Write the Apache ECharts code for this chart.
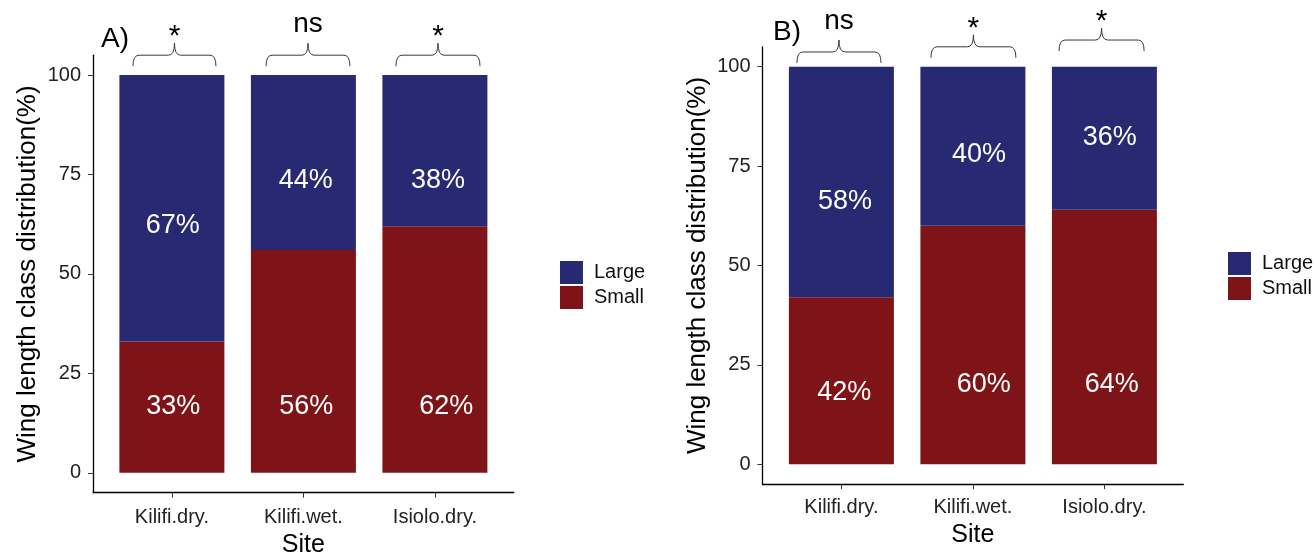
<!DOCTYPE html>
<html>
<head>
<meta charset="utf-8">
<script src="https://cdn.jsdelivr.net/npm/echarts@6/dist/echarts.min.js"></script>
<style>
html,body{margin:0;padding:0;background:#fff;}
#chart{width:1314px;height:552px;}
</style>
</head>
<body>
<div id="chart"></div>
<script>
// ---------- data ----------
const categories = ['Kilifi.dry.', 'Kilifi.wet.', 'Isiolo.dry.'];
const smallA = [33, 56, 62];
const largeA = [67, 44, 38];
const smallB = [42, 60, 64];
const largeB = [58, 40, 36];
const sigA = ['*', 'ns', '*'];
const sigB = ['ns', '*', '*'];
const yTicks = [0, 25, 50, 75, 100];
const seriesNames = ['Large', 'Small'];
const yTitle = 'Wing length class distribution(%)';
const xTitle = 'Site';
const panelTitles = ['A)', 'B)'];

// label anchor positions (data units), as placed in the original figure
const lblSmallAx = [1.010, 2.021, 3.087], lblSmallAy = [16.7, 16.7, 16.7];
const lblLargeAx = [1.007, 2.018, 3.024], lblLargeAy = [62.2, 73.6, 73.6];
const lblSmallBx = [1.022, 2.082, 3.056], lblSmallBy = [18.1, 20.1, 20.1];
const lblLargeBx = [1.027, 2.046, 3.040], lblLargeBy = [66.0, 78.0, 82.2];

// significance brace extents (data units)
const braceAfrom = [0.704, 1.716, 2.704], braceAto = [1.335, 2.354, 3.343], braceAy = [105, 105, 105];
const braceBfrom = [0.662, 1.681, 2.655], braceBto = [1.301, 2.327, 3.302], braceBy = [103.7, 105, 106.7];

// ---------- style ----------
const FONT = "'Liberation Sans', Arial, sans-serif";
const NAVY = '#272972';
const RED = '#7f1418';

const chart = echarts.init(document.getElementById('chart'), null, {renderer: 'canvas'});

// value first so that the stack is applied on the value dimension
function barData(vals) { return vals.map((v, i) => [v, i + 1]); }
function lblData(xs, ys, vals) { return vals.map((v, i) => [xs[i], ys[i], v]); }
function braceData(from, to, ys) { return from.map((f, i) => [f, to[i], ys[i]]); }

function braceRenderer(sig) {
  return function (params, api) {
    const i = params.dataIndex;
    const p1 = api.coord([api.value(0), api.value(2)]);
    const p2 = api.coord([api.value(1), api.value(2)]);
    const L = p1[0], R = p2[0], T = p1[1], M = (L + R) / 2;
    const r = 6, drop = 11, rise = 12;
    const d = `M${L},${T + drop} Q${L},${T} ${L + r},${T} L${M - r},${T} Q${M},${T} ${M},${T - rise} ` +
              `Q${M},${T} ${M + r},${T} L${R - r},${T} Q${R},${T} ${R},${T + drop}`;
    const s = sig[i];
    const ty = s === 'ns' ? T - rise - 19 : T - rise - 6;
    return {
      type: 'group',
      children: [
        {type: 'path', shape: {pathData: d}, style: {fill: null, stroke: '#3a3a3a', lineWidth: 1}},
        {type: 'text', style: {text: s, x: M, y: ty, align: 'center', verticalAlign: 'middle',
          font: `${s === 'ns' ? 28 : 30}px ${FONT}`, fill: '#000'}}
      ]
    };
  };
}

function xAxisCfg(gi, nameGap, margin) {
  return {
    type: 'value', gridIndex: gi, min: 0.4, max: 3.6,
    name: xTitle, nameLocation: 'middle', nameGap: nameGap,
    nameTextStyle: {fontFamily: FONT, fontSize: 25, color: '#000'},
    axisLine: {show: true, onZero: false, lineStyle: {color: '#000', width: 1.3}},
    axisTick: {show: true, length: 5, customValues: [1, 2, 3], lineStyle: {color: '#333'}},
    axisLabel: {show: true, customValues: [1, 2, 3], margin: margin,
      formatter: v => categories[Math.round(v) - 1] || '',
      fontFamily: FONT, fontSize: 20, color: '#222'},
    splitLine: {show: false}
  };
}
function yAxisCfg(gi) {
  return {
    type: 'value', gridIndex: gi, min: -5, max: 105,
    name: yTitle, nameLocation: 'middle', nameRotate: 90, nameGap: 52,
    nameTextStyle: {fontFamily: FONT, fontSize: 26, color: '#000'},
    axisLine: {show: true, onZero: false, lineStyle: {color: '#000', width: 1.3}},
    axisTick: {show: true, length: 5, customValues: yTicks, lineStyle: {color: '#333'}},
    axisLabel: {show: true, customValues: yTicks, margin: 12,
      fontFamily: FONT, fontSize: 20, color: '#222'},
    splitLine: {show: false}
  };
}

function panelSeries(gi, small, large, sx, sy, lx, ly, bf, bt, by, sig) {
  const lblStyle = {show: true, position: 'inside', color: '#ffffff', opacity: 1, fontFamily: FONT, fontSize: 27,
    textBorderWidth: 0, formatter: p => p.value[2] + '%'};
  const barCommon = {type: 'bar', xAxisIndex: gi, yAxisIndex: gi, stack: 's' + gi,
    barWidth: 105, encode: {x: 1, y: 0}, silent: true};
  const lblCommon = {type: 'scatter', xAxisIndex: gi, yAxisIndex: gi, symbolSize: 1,
    itemStyle: {color: 'rgba(0,0,0,0)', opacity: 1}, silent: true, label: lblStyle, z: 5};
  return [
    Object.assign({name: 'Small', data: barData(small), itemStyle: {color: RED}}, barCommon),
    Object.assign({name: 'Large', data: barData(large), itemStyle: {color: NAVY}}, barCommon),
    Object.assign({name: 'lblS' + gi, data: lblData(sx, sy, small)}, lblCommon),
    Object.assign({name: 'lblL' + gi, data: lblData(lx, ly, large)}, lblCommon),
    {name: 'brace' + gi, type: 'custom', xAxisIndex: gi, yAxisIndex: gi, clip: false, silent: true,
      encode: {x: [0, 1], y: 2}, renderItem: braceRenderer(sig), data: braceData(bf, bt, by)}
  ];
}

function legendCfg(left, top) {
  return {
    show: true, orient: 'vertical', left: left, top: top, selectedMode: false,
    data: seriesNames.map(n => ({name: n, icon: 'rect'})),
    itemWidth: 23, itemHeight: 23, itemGap: 2,
    textStyle: {fontFamily: FONT, fontSize: 20, color: '#111', padding: [0, 0, 0, 6]}
  };
}

const option = {
  backgroundColor: '#fff',
  animation: false,
  title: [
    {text: panelTitles[0], left: 96, top: 20, textStyle: {fontFamily: FONT, fontSize: 28, fontWeight: 'normal', color: '#000'}},
    {text: panelTitles[1], left: 768, top: 13, textStyle: {fontFamily: FONT, fontSize: 28, fontWeight: 'normal', color: '#000'}}
  ],
  legend: [legendCfg(555, 256), legendCfg(1223, 247)],
  grid: [
    {left: 93, right: 800.2, top: 55.2, bottom: 59.3, containLabel: false, outerBoundsMode: 'none'},
    {left: 762.5, right: 130.7, top: 46.8, bottom: 67.8, containLabel: false, outerBoundsMode: 'none'}
  ],
  xAxis: [xAxisCfg(0, 40, 15), xAxisCfg(1, 38, 13)],
  yAxis: [yAxisCfg(0), yAxisCfg(1)],
  series: [].concat(
    panelSeries(0, smallA, largeA, lblSmallAx, lblSmallAy, lblLargeAx, lblLargeAy, braceAfrom, braceAto, braceAy, sigA),
    panelSeries(1, smallB, largeB, lblSmallBx, lblSmallBy, lblLargeBx, lblLargeBy, braceBfrom, braceBto, braceBy, sigB)
  )
};
chart.setOption(option);
</script>
</body>
</html>
